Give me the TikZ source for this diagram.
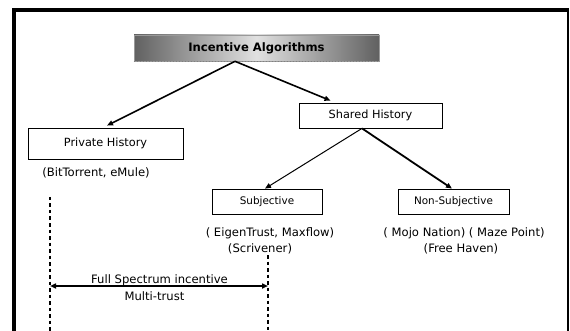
\documentclass[tikz,border=0pt]{standalone}
\usepackage{fontspec}
\setmainfont{DejaVu Sans}
\usetikzlibrary{arrows.meta}
\begin{document}
\begin{tikzpicture}[x=1pt,y=-1pt,
  box/.style={draw, line width=0.8pt, inner sep=0pt, font=\fontsize{11.3}{13}\selectfont},
  sbox/.style={draw, line width=0.8pt, inner sep=0pt, font=\fontsize{10.4}{12}\selectfont},
  lbl/.style={inner sep=0pt, font=\fontsize{11.6}{13}\selectfont},
  arr/.style={-{Triangle[length=6pt,width=5pt]}, line width=1.6pt},
  dashline/.style={line width=1.5pt, dash pattern=on 3.5pt off 3pt},
  frameline/.style={line cap=rect}]
\useasboundingbox (0,0) rectangle (570,331);
% frame
\draw[frameline, line width=4pt] (13.7,331) -- (13.7,10);
\draw[frameline, line width=3.3pt] (13.7,10) -- (567.7,10);
\draw[frameline, line width=2pt] (567.7,10) -- (567.7,331);
% top box
\node[draw=gray!80, line width=0.6pt, minimum width=245pt, minimum height=26pt, inner sep=0pt,
      left color=black!62, right color=black!62, middle color=black!12,
      font=\bfseries\fontsize{11.6}{13}\selectfont] (top) at (256.5,48) {Incentive Algorithms};
\draw[gray, line width=1pt, dotted] (top.south west) -- (top.south east);
% boxes
\node[box, minimum width=155pt, minimum height=31pt] (priv) at (105.5,143.5) {Private History};
\node[box, minimum width=143pt, minimum height=25pt] (shared) at (370.5,115.5) {Shared History};
\node[sbox, minimum width=110pt, minimum height=25pt] (subj) at (267,201.5) {Subjective};
\node[sbox, minimum width=111pt, minimum height=25pt] (nonsubj) at (453.5,201.5) {Non-Subjective};
% labels
\node[lbl] (bit) at (96,173) {(BitTorrent, eMule)};
\node[lbl] (eigen) at (270,233) {( EigenTrust, Maxflow)};
\node[lbl] (scriv) at (260,249) {(Scrivener)};
\node[lbl] (mojo) at (464,233) {( Mojo Nation) ( Maze Point)};
\node[lbl] (free) at (461,249) {(Free Haven)};
% arrows
\draw[arr] ([xshift=-21.5pt]top.south) -- ([xshift=1.5pt,yshift=2pt]priv.north);
\draw[arr] ([xshift=-21.5pt]top.south) -- ([xshift=-40pt,yshift=2pt]shared.north);
\draw[arr, line width=1pt] ([xshift=-8.5pt]shared.south) -- ([xshift=-2pt]subj.north);
\draw[arr, line width=1.8pt] ([xshift=-8.5pt]shared.south) -- ([xshift=-1.5pt]nonsubj.north);
% dashed lines
\coordinate (d1t) at (50,197);
\coordinate (d1b) at (50,331);
\coordinate (d2t) at (268,255);
\coordinate (d2b) at (268,331);
\draw[dashline] (d1t) -- (d1b);
\draw[dashline] (d2t) -- (d2b);
\coordinate (a1) at (50,286);
\coordinate (a2) at (268,286);
\draw[{Triangle[length=6pt,width=5pt]}-{Triangle[length=6pt,width=5pt]}, line width=1.6pt] (a1) -- (a2);
\node[lbl] (full) at (159.5,280) {Full Spectrum incentive};
\node[lbl] (multi) at (154.5,296) {Multi-trust};
\end{tikzpicture}
\end{document}
